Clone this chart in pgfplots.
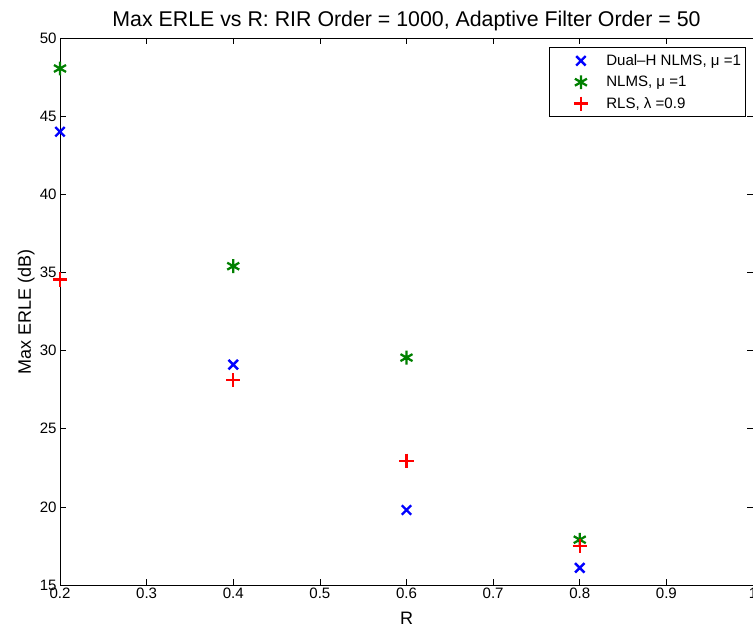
\documentclass[border=0pt]{standalone}
\usepackage{pgfplots}
\pgfplotsset{compat=1.18}
\usepackage{fontspec}
\setmainfont{Liberation Sans}
\definecolor{mgreen}{rgb}{0,0.5,0}
\begin{document}
\begin{tikzpicture}
\begin{axis}[
  scale only axis,
  width=519.75pt, height=410.25pt,
  xmin=0.2, xmax=1, ymin=15, ymax=50,
  xtick={0.2,0.3,0.4,0.5,0.6,0.7,0.8,0.9,1},
  xticklabels={0.2,0.3,0.4,0.5,0.6,0.7,0.8,0.9,1},
  ytick={15,20,25,30,35,40,45,50},
  /pgf/number format/assume math mode=true,
  tick align=inside,
  major tick length=4.5pt,
  tick style={black, line width=0.5pt},
  axis line style={line width=0.6pt},
  ticklabel style={font=\fontsize{11.3}{13}\selectfont},
  xticklabel style={yshift=1pt},
  yticklabel style={xshift=1pt},
  label style={font=\fontsize{13.5}{15}\selectfont},
  xlabel={R},
  ylabel={Max ERLE (dB)},
  xlabel style={yshift=-3pt},
  ylabel style={yshift=-3pt},
  title={Max ERLE vs R: RIR Order = 1000, Adaptive Filter Order = 50},
  title style={font=\fontsize{16}{18}\selectfont, yshift=-4pt},
  legend style={at={(0.989,0.983)}, anchor=north east, draw=black, line width=0.6pt,
     font=\fontsize{11.3}{13}\selectfont, row sep=2.5pt, inner xsep=1pt, inner ysep=3pt},
  legend cell align=left,
  legend image code/.code={\path[draw=none] (0pt,0pt) -- (40pt,0pt); \draw[#1] plot coordinates {(23pt,0pt)};},
]
\addplot[only marks, blue, mark=x, mark size=5pt, line width=1.8pt] coordinates {
  (0.2,44.0) (0.4,29.1) (0.6,19.8) (0.8,16.1)};
\addlegendentry{Dual–H NLMS, μ =1}
\addplot[only marks, mgreen, mark=asterisk, mark size=5.2pt, line width=1.7pt] coordinates {
  (0.2,48.05) (0.4,35.4) (0.6,29.55) (0.8,17.9)};
\addlegendentry{NLMS, μ =1}
\addplot[only marks, red, mark=+, mark size=5.3pt, line width=1.8pt] coordinates {
  (0.2,34.55) (0.4,28.1) (0.6,22.95) (0.8,17.5)};
\addlegendentry{RLS, λ =0.9}
\end{axis}
\pgfresetboundingbox
\path ([xshift=-45pt,yshift=-32.25pt]current axis.south west) rectangle ([yshift=28.5pt]current axis.north east);
\end{tikzpicture}
\end{document}
